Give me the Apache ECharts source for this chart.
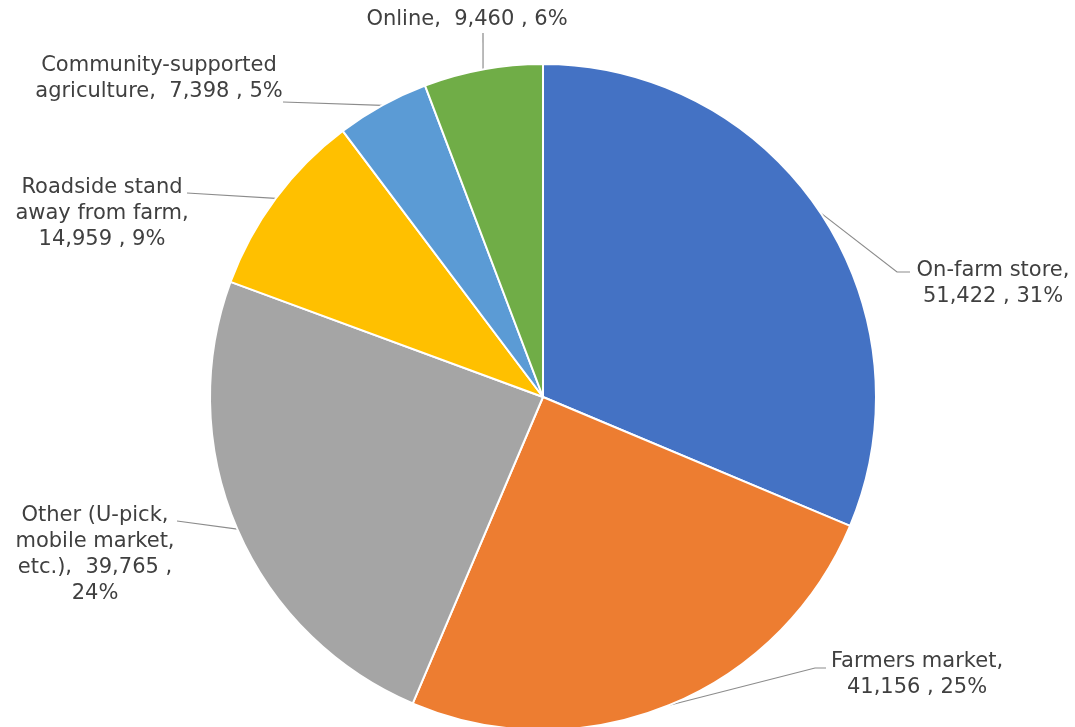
<!DOCTYPE html>
<html>
<head>
<meta charset="utf-8">
<script src="https://cdn.jsdelivr.net/npm/echarts@6/dist/echarts.min.js"></script>
<style>html,body{margin:0;padding:0;background:#fff}#c{width:1075px;height:727px}</style>
</head>
<body>
<div id="c"></div>
<script>
var categories = ["On-farm store", "Farmers market", "Other (U-pick, mobile market, etc.)", "Roadside stand away from farm", "Community-supported agriculture", "Online"];
var values = [51422, 41156, 39765, 14959, 7398, 9460];
var labelNames = ["On-farm store,", "Farmers market,", "Other (U-pick,\nmobile market,\netc.),", "Roadside stand\naway from farm,", "Community-supported\nagriculture,", "Online,"];
var colors = ["#4472C4", "#ED7D31", "#A5A5A5", "#FFC000", "#5B9BD5", "#70AD47"];

// label layout (positions only)
var labelCenters = [[993, 284], [917, 675], [95, 555], [102, 214], [159, 79], [467, 20]];
var lineBends = [[897, 272], [815, 668], [177, 521], [187, 193], [283, 102], [483, 33]];
var lineEnds = [[910, 272], [826, 668], [177, 521], [187, 193], [283, 102], [483, 33]];

function fmt(n){ return n.toLocaleString('en-US'); }

var chart = echarts.init(document.getElementById('c'), null, {renderer: 'canvas'});
var data = categories.map(function(c, i){
  return {name: c, value: values[i], itemStyle: {color: colors[i]}};
});
chart.setOption({
  backgroundColor: '#fff',
  animation: false,
  series: [{
    type: 'pie',
    center: [543, 397],
    radius: [0, 333],
    startAngle: 90,
    clockwise: true,
    percentPrecision: 0,
    data: data,
    itemStyle: {borderColor: '#fff', borderWidth: 2},
    label: {
      show: true,
      position: 'outside',
      fontFamily: 'DejaVu Sans',
      fontSize: 21,
      lineHeight: 26,
      color: '#404040',
      align: 'center',
      formatter: function(p){
        var i = p.dataIndex;
        var v = fmt(p.value), pc = Math.round(p.percent) + '%';
        if (i === 2) return labelNames[i] + '  ' + v + ' ,\n' + pc;
        if (i === 0 || i === 1 || i === 3) return labelNames[i] + '\n' + v + ' , ' + pc;
        return labelNames[i] + '  ' + v + ' , ' + pc;
      }
    },
    labelLine: {show: true, length: 10, length2: 10, lineStyle: {color: '#8c8c8c', width: 1.2}},
    labelLayout: function(params){
      var i = params.dataIndex;
      var p0 = params.labelLinePoints ? params.labelLinePoints[0] : lineBends[i];
      return {
        x: labelCenters[i][0],
        y: labelCenters[i][1],
        align: 'center',
        verticalAlign: 'middle',
        labelLinePoints: [p0, lineBends[i], lineEnds[i]]
      };
    }
  }]
});
</script>
</body>
</html>
